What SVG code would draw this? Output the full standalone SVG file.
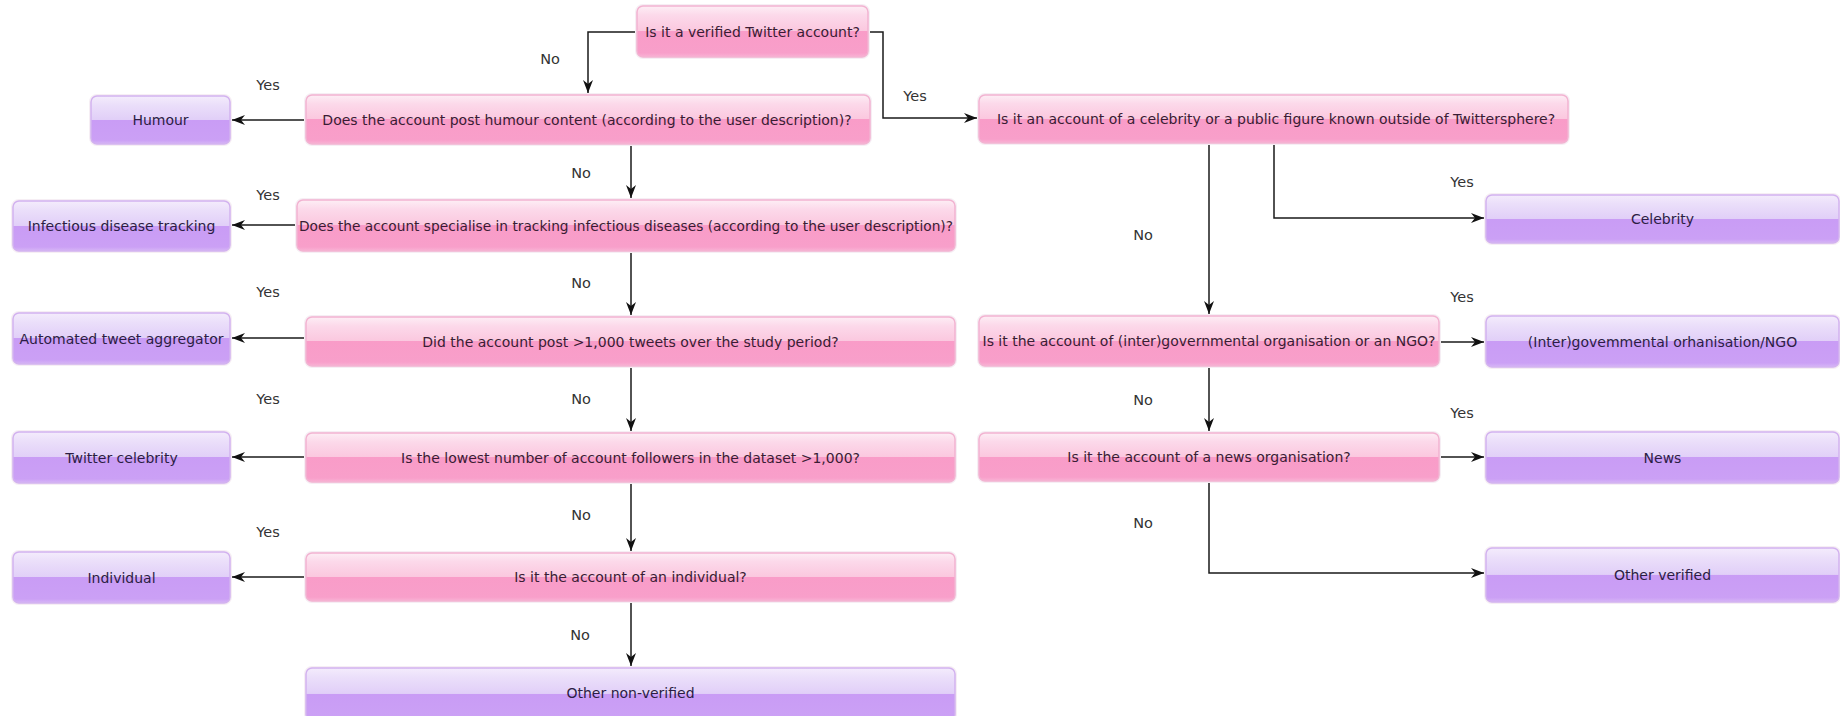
<svg xmlns="http://www.w3.org/2000/svg" width="1840" height="716" viewBox="0 0 1840 716">
<style>
  .q rect.b { fill: url(#pinkG); stroke: #f2b3d1; stroke-width: 1.5; }
  .r rect.b { fill: url(#purpG); stroke: #d2b2ef; stroke-width: 1.5; }
  rect.g { fill: none; stroke: #f6eef4; stroke-width: 4; }
  .q text { font-family: "DejaVu Sans", "Open Sans", sans-serif; font-size: 14px; fill: #3a1c34; text-anchor: middle; }
  .r text { font-family: "DejaVu Sans", "Open Sans", sans-serif; font-size: 14px; fill: #2c1d44; text-anchor: middle; }
  .lbl text { font-family: "DejaVu Sans", "Open Sans", sans-serif; font-size: 14.5px; fill: #333333; text-anchor: middle; }
  .conn path { fill: none; stroke: #1a1a1a; stroke-width: 1.5; marker-end: url(#ah); }
</style>
<defs>
  <linearGradient id="pinkG" x1="0" y1="0" x2="0" y2="1">
    <stop offset="0" stop-color="#fdeef5"/>
    <stop offset="0.18" stop-color="#fcd9ea"/>
    <stop offset="0.49" stop-color="#fbc8df"/>
    <stop offset="0.5" stop-color="#f99cc8"/>
    <stop offset="0.92" stop-color="#f89fca"/>
    <stop offset="1" stop-color="#f9b3d5"/>
  </linearGradient>
  <linearGradient id="purpG" x1="0" y1="0" x2="0" y2="1">
    <stop offset="0" stop-color="#f4ecfc"/>
    <stop offset="0.18" stop-color="#ebdffa"/>
    <stop offset="0.49" stop-color="#e1cff8"/>
    <stop offset="0.5" stop-color="#c99cf5"/>
    <stop offset="0.92" stop-color="#cba0f5"/>
    <stop offset="1" stop-color="#d7b6f6"/>
  </linearGradient>
  <marker id="ah" viewBox="0 0 13 10" refX="13" refY="5" markerWidth="13" markerHeight="10" markerUnits="userSpaceOnUse" orient="auto">
    <path d="M0,0 L13,5 L0,10 L4,5 z" fill="#111111"/>
  </marker>
</defs>
<rect width="1840" height="716" fill="#ffffff"/>

<g class="conn" id="connectors">
  <path d="M637,32 H588 V93"/>
  <path d="M868,32 H883 V118 H977"/>
  <path d="M306,120 H232"/>
  <path d="M631,144 V198"/>
  <path d="M297,225 H232"/>
  <path d="M631,251 V315"/>
  <path d="M306,338 H232"/>
  <path d="M631,366 V431"/>
  <path d="M306,457 H232"/>
  <path d="M631,482 V551"/>
  <path d="M306,577 H232"/>
  <path d="M631,601 V666"/>
  <path d="M1274,143 V218 H1484"/>
  <path d="M1209,143 V314"/>
  <path d="M1439,342 H1484"/>
  <path d="M1209,366 V431"/>
  <path d="M1439,457 H1484"/>
  <path d="M1209,481 V573 H1484"/>
</g>

<g class="lbl" id="labels">
  <text x="550" y="64">No</text>
  <text x="268" y="90">Yes</text>
  <text x="915" y="101">Yes</text>
  <text x="581" y="178">No</text>
  <text x="268" y="200">Yes</text>
  <text x="1462" y="187">Yes</text>
  <text x="1143" y="240">No</text>
  <text x="581" y="288">No</text>
  <text x="268" y="297">Yes</text>
  <text x="1462" y="302">Yes</text>
  <text x="581" y="404">No</text>
  <text x="268" y="404">Yes</text>
  <text x="1143" y="405">No</text>
  <text x="1462" y="418">Yes</text>
  <text x="581" y="520">No</text>
  <text x="268" y="537">Yes</text>
  <text x="1143" y="528">No</text>
  <text x="580" y="640">No</text>
</g>

<g class="q" id="q-verified">
  <rect class="g" x="637" y="6" width="231" height="51" rx="6"/>
  <rect class="b" x="637" y="6" width="231" height="51" rx="6"/>
  <text x="752.5" y="36.5">Is it a verified Twitter account?</text>
</g>
<g class="q" id="q-humour">
  <rect class="g" x="306" y="95" width="564" height="49" rx="6"/>
  <rect class="b" x="306" y="95" width="564" height="49" rx="6"/>
  <text x="587" y="124.5">Does the account post humour content (according to the user description)?</text>
</g>
<g class="q" id="q-infectious">
  <rect class="g" x="297" y="200" width="658" height="51" rx="6"/>
  <rect class="b" x="297" y="200" width="658" height="51" rx="6"/>
  <text x="626" y="230.5" textLength="654" lengthAdjust="spacingAndGlyphs">Does the account specialise in tracking infectious diseases (according to the user description)?</text>
</g>
<g class="q" id="q-tweets">
  <rect class="g" x="306" y="317" width="649" height="49" rx="6"/>
  <rect class="b" x="306" y="317" width="649" height="49" rx="6"/>
  <text x="630.5" y="346.5">Did the account post &gt;1,000 tweets over the study period?</text>
</g>
<g class="q" id="q-followers">
  <rect class="g" x="306" y="433" width="649" height="49" rx="6"/>
  <rect class="b" x="306" y="433" width="649" height="49" rx="6"/>
  <text x="630.5" y="462.5">Is the lowest number of account followers in the dataset &gt;1,000?</text>
</g>
<g class="q" id="q-individual">
  <rect class="g" x="306" y="553" width="649" height="48" rx="6"/>
  <rect class="b" x="306" y="553" width="649" height="48" rx="6"/>
  <text x="630.5" y="582">Is it the account of an individual?</text>
</g>
<g class="r" id="r-other-nonverified">
  <rect class="g" x="306" y="668" width="649" height="52" rx="6"/>
  <rect class="b" x="306" y="668" width="649" height="52" rx="6"/>
  <text x="630.5" y="698">Other non-verified</text>
</g>

<g class="r" id="r-humour">
  <rect class="g" x="91" y="96" width="139" height="48" rx="6"/>
  <rect class="b" x="91" y="96" width="139" height="48" rx="6"/>
  <text x="160.5" y="125">Humour</text>
</g>
<g class="r" id="r-infectious">
  <rect class="g" x="13" y="201" width="217" height="50" rx="6"/>
  <rect class="b" x="13" y="201" width="217" height="50" rx="6"/>
  <text x="121.5" y="231">Infectious disease tracking</text>
</g>
<g class="r" id="r-aggregator">
  <rect class="g" x="13" y="313" width="217" height="51" rx="6"/>
  <rect class="b" x="13" y="313" width="217" height="51" rx="6"/>
  <text x="121.5" y="343.5">Automated tweet aggregator</text>
</g>
<g class="r" id="r-twitter-celebrity">
  <rect class="g" x="13" y="432" width="217" height="51" rx="6"/>
  <rect class="b" x="13" y="432" width="217" height="51" rx="6"/>
  <text x="121.5" y="462.5">Twitter celebrity</text>
</g>
<g class="r" id="r-individual">
  <rect class="g" x="13" y="552" width="217" height="51" rx="6"/>
  <rect class="b" x="13" y="552" width="217" height="51" rx="6"/>
  <text x="121.5" y="582.5">Individual</text>
</g>

<g class="q" id="q-celebrity">
  <rect class="g" x="979" y="95" width="589" height="48" rx="6"/>
  <rect class="b" x="979" y="95" width="589" height="48" rx="6"/>
  <text x="1276" y="124">Is it an account of a celebrity or a public figure known outside of Twittersphere?</text>
</g>
<g class="q" id="q-intergov">
  <rect class="g" x="979" y="316" width="460" height="50" rx="6"/>
  <rect class="b" x="979" y="316" width="460" height="50" rx="6"/>
  <text x="1209" y="346">Is it the account of (inter)governmental organisation or an NGO?</text>
</g>
<g class="q" id="q-news">
  <rect class="g" x="979" y="433" width="460" height="48" rx="6"/>
  <rect class="b" x="979" y="433" width="460" height="48" rx="6"/>
  <text x="1209" y="462">Is it the account of a news organisation?</text>
</g>

<g class="r" id="r-celebrity">
  <rect class="g" x="1486" y="195" width="353" height="48" rx="6"/>
  <rect class="b" x="1486" y="195" width="353" height="48" rx="6"/>
  <text x="1662.5" y="224">Celebrity</text>
</g>
<g class="r" id="r-intergov">
  <rect class="g" x="1486" y="316" width="353" height="51" rx="6"/>
  <rect class="b" x="1486" y="316" width="353" height="51" rx="6"/>
  <text x="1662.5" y="346.5">(Inter)govemmental orhanisation/NGO</text>
</g>
<g class="r" id="r-news">
  <rect class="g" x="1486" y="432" width="353" height="51" rx="6"/>
  <rect class="b" x="1486" y="432" width="353" height="51" rx="6"/>
  <text x="1662.5" y="462.5">News</text>
</g>
<g class="r" id="r-other-verified">
  <rect class="g" x="1486" y="548" width="353" height="54" rx="6"/>
  <rect class="b" x="1486" y="548" width="353" height="54" rx="6"/>
  <text x="1662.5" y="580">Other verified</text>
</g>
</svg>
